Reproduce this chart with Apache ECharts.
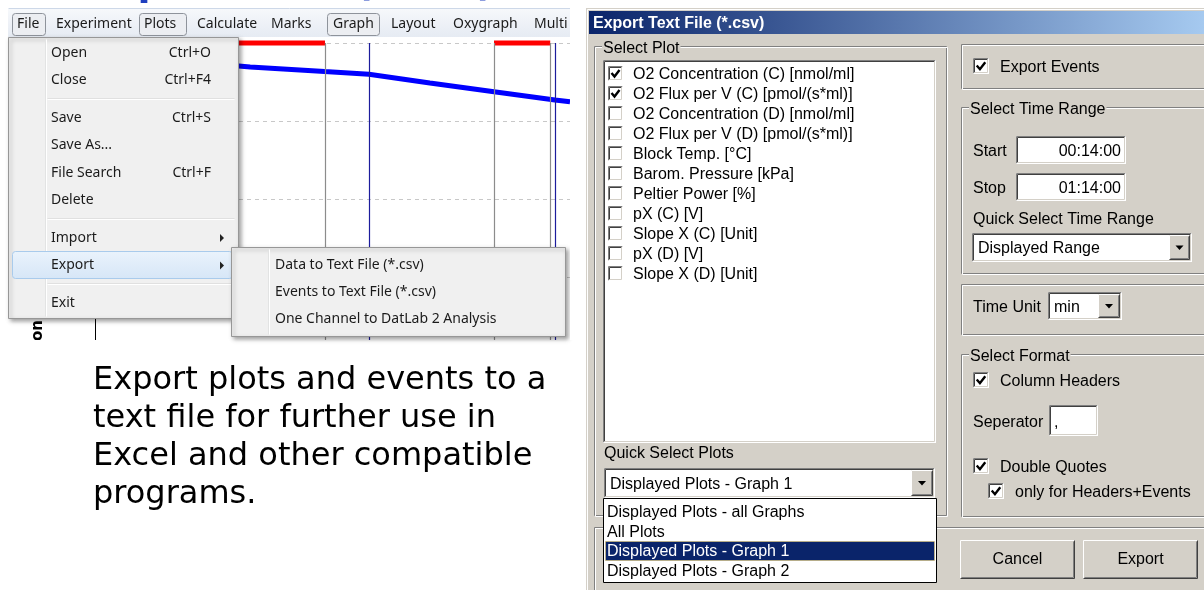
<!DOCTYPE html>
<html>
<head>
<meta charset="utf-8">
<script src="https://cdn.jsdelivr.net/npm/echarts@6/dist/echarts.min.js"></script>
<style>
  html, body { margin: 0; padding: 0; background: #fff; }
  #main { width: 1204px; height: 590px; }
</style>
</head>
<body>
<div id="main"></div>
<script>
// plot data (time in min, O2 concentration in nmol/ml)
const timesMin = [14, 20, 26, 33.6, 43, 48.6, 56.3, 64.4, 72.1, 74]
const o2Conc = [194, 191, 188, 184.6, 181.7, 180, 174.4, 168.8, 163.5, 162.4]
// red event bars on top of the graph
const eventStart = [14, 64.4]
const eventEnd = [43.05, 71.5]
// vertical lines: marks (gray) and events (navy)
const markTimes = [43.05, 64.4, 71.5]
const eventTimes = [48.6, 72.1]

// texts of the window
const menuBarItems = ['File', 'Experiment', 'Plots', 'Calculate', 'Marks', 'Graph', 'Layout', 'Oxygraph', 'Multi']
const fileMenuItems = ['Open', 'Close', '-', 'Save', 'Save As...', 'File Search', 'Delete', '-', 'Import', 'Export', '-', 'Exit']
const fileMenuKeys = ['Ctrl+O', 'Ctrl+F4', '', 'Ctrl+S', '', 'Ctrl+F', '', '', '', '', '', '']
const exportItems = ['Data to Text File (*.csv)', 'Events to Text File (*.csv)', 'One Channel to DatLab 2 Analysis']
const plotNames = ['O2 Concentration (C) [nmol/ml]', 'O2 Flux per V (C) [pmol/(s*ml)]', 'O2 Concentration (D) [nmol/ml]',
  'O2 Flux per V (D) [pmol/(s*ml)]', 'Block Temp. [°C]', 'Barom. Pressure [kPa]', 'Peltier Power [%]',
  'pX (C) [V]', 'Slope X (C) [Unit]', 'pX (D) [V]', 'Slope X (D) [Unit]']
const plotChecked = [true, true, false, false, false, false, false, false, false, false, false]
const quickPlotOptions = ['Displayed Plots - all Graphs', 'All Plots', 'Displayed Plots - Graph 1', 'Displayed Plots - Graph 2']
const introLines = ['Export plots and events to a', 'text file for further use in', 'Excel and other compatible', 'programs.']

const chart = echarts.init(document.getElementById('main'))

const G = []
const MENU_FONT = '14px "Noto Sans"'
const DLG_FONT = '16px "Liberation Sans"'
const FACE = '#d4d0c8'
const DY = 1.5 // dialog text baseline nudge

function rect(x, y, w, h, style, extra) {
  G.push(Object.assign({ type: 'rect', z: 10, shape: { x, y, width: w, height: h }, style }, extra || {}))
}
function line(x1, y1, x2, y2, stroke, lw, dash) {
  G.push({ type: 'line', z: 10, shape: { x1: x1 + 0.5, y1: y1 + 0.5, x2: x2 + 0.5, y2: y2 + 0.5 },
    style: { stroke, lineWidth: lw || 1, lineDash: dash || null } })
}
function txt(x, y, s, font, fill, align, extra) {
  G.push(Object.assign({ type: 'text', z: 10, x, y,
    style: { text: s, font, fill: fill || '#000', textAlign: align || 'left', textVerticalAlign: 'middle' } }, extra || {}))
}
function dtxt(x, y, s, fill, align) {
  txt(x, y + DY, s, DLG_FONT, fill, align)
}
function sunken(x, y, w, h, fill) {
  rect(x, y, w, h, { fill })
  line(x, y, x + w - 1, y, '#808080'); line(x, y, x, y + h - 1, '#808080')
  line(x + 1, y + 1, x + w - 2, y + 1, '#404040'); line(x + 1, y + 1, x + 1, y + h - 2, '#404040')
  line(x, y + h - 1, x + w - 1, y + h - 1, '#ffffff'); line(x + w - 1, y, x + w - 1, y + h - 1, '#ffffff')
  line(x + 1, y + h - 2, x + w - 2, y + h - 2, FACE); line(x + w - 2, y + 1, x + w - 2, y + h - 2, FACE)
}
function raised(x, y, w, h) {
  rect(x, y, w, h, { fill: FACE })
  line(x, y, x + w - 1, y, '#ffffff'); line(x, y, x, y + h - 1, '#ffffff')
  line(x, y + h - 1, x + w - 1, y + h - 1, '#404040'); line(x + w - 1, y, x + w - 1, y + h - 1, '#404040')
  line(x + 1, y + h - 2, x + w - 2, y + h - 2, '#808080'); line(x + w - 2, y + 1, x + w - 2, y + h - 2, '#808080')
}
function checkbox(x, yc, checked, size) {
  const s = size || 15
  const y = Math.round(yc - s / 2)
  sunken(x, y, s, s, '#fff')
  if (checked) {
    const k = s / 15
    G.push({ type: 'polyline', z: 10,
      shape: { points: [[x + 3.5 * k, y + 7 * k], [x + 6.5 * k, y + 10.5 * k], [x + 11.5 * k, y + 4 * k]] },
      style: { stroke: '#000', lineWidth: 2.4, fill: null } })
  }
}
function arrowDown(cx, cy) {
  G.push({ type: 'polygon', z: 10, shape: { points: [[cx - 4, cy - 2], [cx + 4, cy - 2], [cx, cy + 2.5]] }, style: { fill: '#000' } })
}
function combo(x, y, w, h, s, bw) {
  sunken(x, y, w, h, '#fff')
  dtxt(x + 6, y + h / 2, s)
  raised(x + w - 2 - bw, y + 2, bw, h - 4)
  arrowDown(x + w - 2 - bw / 2, y + h / 2)
}
function groupBox(x, y, w, h, label) {
  rect(x, y, w, h, { fill: null, stroke: '#808080', lineWidth: 1 }, { shape: { x: x + 0.5, y: y + 0.5, width: w, height: h } })
  rect(x, y, w, h, { fill: null, stroke: '#ffffff', lineWidth: 1 }, { shape: { x: x + 1.5, y: y + 1.5, width: w, height: h } })
  if (label) {
    G.push({ type: 'text', z: 10, x: x + 8, y: y + 1 + DY,
      style: { text: label, font: DLG_FONT, fill: '#000', textVerticalAlign: 'middle', backgroundColor: FACE, padding: [0, 1] } })
  }
}

// --- left part: slide title (cut at the top), y axis name of the graph
G.push({ type: 'text', z: 10, x: 87, y: 4,
  style: { text: 'Export Data (*.csv)', font: 'bold 38px "DejaVu Sans"', fill: '#1f3fbf', textVerticalAlign: 'bottom' } })
line(8, 8, 570, 8, '#cdd8e8')
txt(38, 320, 'O2 Concentration', 'bold 15px "DejaVu Sans"', '#000', 'right', { rotation: Math.PI / 2 })
rect(0, 340, 586, 250, { fill: '#fff' })
introLines.forEach((s, i) => txt(93, 381 + i * 37.8, s, '32px "DejaVu Sans"', '#000'))

// menu bar
rect(8, 9, 562, 28, { fill: new echarts.graphic.LinearGradient(0, 0, 0, 1, [
  { offset: 0, color: '#f6f8fb' }, { offset: 1, color: '#e6ebf3' }]) })
const barX = [17, 56, 144, 197, 271, 333, 391, 453, 534]
const pressed = { File: [12, 33], Plots: [139, 47], Graph: [327, 52] }
menuBarItems.forEach((s, i) => {
  if (pressed[s]) {
    rect(0, 0, 0, 0, { fill: '#eceef2', stroke: '#8e939b', lineWidth: 1 },
      { shape: { x: pressed[s][0] + 0.5, y: 13.5, width: pressed[s][1], height: 22, r: 3 } })
  }
  txt(barX[i], 24.5, s, MENU_FONT, '#1b1b1b')
})

// File menu
const menuShadow = { shadowBlur: 4, shadowColor: 'rgba(0,0,0,0.35)', shadowOffsetX: 2, shadowOffsetY: 2 }
rect(8, 37, 230, 281, Object.assign({ fill: '#f0f0f0', stroke: '#979797', lineWidth: 1 }, menuShadow),
  { shape: { x: 8.5, y: 37.5, width: 230, height: 281 } })
line(45, 39, 45, 316, '#e2e3e3'); line(46, 39, 46, 316, '#ffffff')
let cur = 38.5
fileMenuItems.forEach((s, i) => {
  if (s === '-') {
    line(47, Math.round(cur + 4), 234, Math.round(cur + 4), '#e0e0e0')
    line(47, Math.round(cur + 5), 234, Math.round(cur + 5), '#ffffff')
    cur += 10
    return
  }
  const yc = cur + 14.5
  if (s === 'Export') {
    rect(0, 0, 0, 0, { fill: new echarts.graphic.LinearGradient(0, 0, 0, 1, [
      { offset: 0, color: '#eaf3fc' }, { offset: 1, color: '#d6e6f7' }]), stroke: '#a9cbec', lineWidth: 1 },
      { shape: { x: 12.5, y: Math.round(cur) + 0.5, width: 220, height: 27, r: 3 } })
  }
  txt(51, yc, s, MENU_FONT, '#1b1b1b')
  if (fileMenuKeys[i]) txt(211, yc, fileMenuKeys[i], MENU_FONT, '#1b1b1b', 'right')
  if (s === 'Import' || s === 'Export') {
    G.push({ type: 'polygon', z: 10, shape: { points: [[220, yc - 4], [224, yc], [220, yc + 4]] }, style: { fill: '#222' } })
  }
  cur += 27.5
})

// Export submenu
rect(231, 247, 334, 89, Object.assign({ fill: '#f0f0f0', stroke: '#979797', lineWidth: 1 }, menuShadow),
  { shape: { x: 231.5, y: 247.5, width: 334, height: 89 } })
line(268, 249, 268, 334, '#e2e3e3'); line(269, 249, 269, 334, '#ffffff')
exportItems.forEach((s, i) => txt(275, 265 + i * 27, s, MENU_FONT, '#1b1b1b'))
rect(570, 0, 16, 340, { fill: '#fff' })

// --- dialog
rect(586, 8, 620, 590, { fill: FACE })
line(587, 9, 587, 590, '#ffffff'); line(587, 9, 1204, 9, '#ffffff')
rect(589, 11, 616, 23, { fill: new echarts.graphic.LinearGradient(0, 0, 1, 0, [
  { offset: 0, color: '#0a246a' }, { offset: 1, color: '#a6caf0' }]) })
txt(593, 23.5, 'Export Text File (*.csv)', 'bold 16px "Liberation Sans"', '#fff')

// Select Plot
groupBox(594, 46, 352, 469, 'Select Plot')
sunken(603, 60, 333, 383, '#fff')
plotNames.forEach((s, i) => {
  checkbox(608, 73 + i * 20, plotChecked[i])
  dtxt(633, 73 + i * 20, s)
})
dtxt(604, 452, 'Quick Select Plots')
combo(604, 468, 331, 30, quickPlotOptions[2], 22)

// bottom panel
line(594, 527, 1204, 527, '#808080'); line(594, 528, 1204, 528, '#ffffff')
line(594, 527, 594, 590, '#808080'); line(595, 528, 595, 590, '#ffffff')

// open drop down list
rect(603, 498, 333, 84, { fill: '#fff', stroke: '#000', lineWidth: 1 }, { shape: { x: 603.5, y: 498.5, width: 333, height: 84 } })
rect(605, 541, 330, 19, { fill: '#0a246a', stroke: '#e8c860', lineWidth: 1, lineDash: [1, 1] },
  { shape: { x: 605.5, y: 541.5, width: 329, height: 19 } })
quickPlotOptions.forEach((s, i) => dtxt(607, 511.5 + i * 19.5, s, i === 2 ? '#fff' : '#000'))

// Export Events
groupBox(961, 44, 260, 44)
checkbox(973, 66, true, 16)
dtxt(1000, 66, 'Export Events')

// Select Time Range
groupBox(961, 107, 260, 166, 'Select Time Range')
dtxt(973, 150, 'Start')
sunken(1016, 136, 110, 28, '#fff')
dtxt(1121, 150, '00:14:00', '#000', 'right')
dtxt(973, 187, 'Stop')
sunken(1016, 173, 110, 28, '#fff')
dtxt(1121, 187, '01:14:00', '#000', 'right')
dtxt(973, 218, 'Quick Select Time Range')
combo(972, 233, 220, 29, 'Displayed Range', 21)

// Time Unit
groupBox(961, 284, 260, 50)
dtxt(973, 306, 'Time Unit')
combo(1048, 292, 74, 28, 'min', 22)

// Select Format
groupBox(961, 354, 260, 162, 'Select Format')
checkbox(973, 380, true, 16)
dtxt(1000, 380, 'Column Headers')
dtxt(973, 421, 'Seperator')
sunken(1049, 405, 49, 31, '#fff')
dtxt(1054, 421, ',')
checkbox(973, 466, true, 16)
dtxt(1000, 466, 'Double Quotes')
checkbox(988, 491, true, 16)
dtxt(1015, 491, 'only for Headers+Events')

// buttons
raised(960, 540, 115, 39)
dtxt(1017.5, 558.5, 'Cancel', '#000', 'center')
raised(1083, 540, 115, 39)
dtxt(1140.5, 558.5, 'Export', '#000', 'center')

const eventData = []
eventStart.forEach((s, i) => {
  if (i > 0) eventData.push([(eventEnd[i - 1] + s) / 2, '-'])
  eventData.push([s, 200], [eventEnd[i], 200])
})

const option = {
  backgroundColor: '#fff',
  animation: false,
  grid: { left: 95, right: 634, top: 43, bottom: 235 },
  xAxis: {
    type: 'value', min: 14, max: 74, position: 'top',
    axisLine: { show: true, lineStyle: { color: '#000', width: 1.5 } },
    axisTick: { show: false }, axisLabel: { show: false }, splitLine: { show: false }
  },
  yAxis: {
    type: 'value', min: 0, max: 200, interval: 50,
    axisLine: { show: true, lineStyle: { color: '#000' } },
    axisTick: { show: false }, axisLabel: { show: false },
    splitLine: { show: true, lineStyle: { color: '#c8c8c8', type: [4, 4] } }
  },
  series: [
    {
      // marks and events lines
      type: 'line', data: [], z: 1,
      markLine: {
        silent: true, symbol: ['none', 'none'], label: { show: false },
        data: markTimes.map((t) => ({ xAxis: t, lineStyle: { color: '#8c8c8c', type: 'solid', width: 1.2 } }))
          .concat(eventTimes.map((t) => ({ xAxis: t, lineStyle: { color: '#1c1c9c', type: 'solid', width: 1.2 } })))
      }
    },
    {
      name: 'O2 Concentration (C)', type: 'line', z: 3,
      data: timesMin.map((t, i) => [t, o2Conc[i]]),
      showSymbol: false, lineStyle: { color: '#0000ff', width: 5 }
    },
    {
      name: 'Events', type: 'line', z: 4, clip: false,
      data: eventData, showSymbol: false,
      lineStyle: { color: '#ff0000', width: 5 }
    }
  ],
  graphic: { elements: G }
}
chart.setOption(option)
</script>
</body>
</html>
